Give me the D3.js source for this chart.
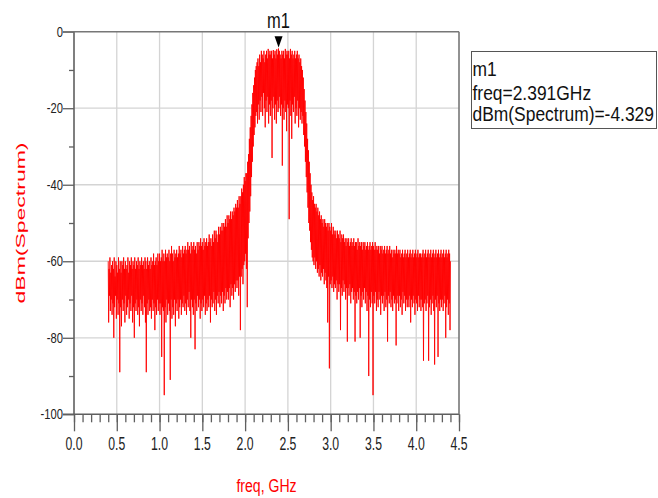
<!DOCTYPE html>
<html>
<head>
<meta charset="utf-8">
<script src="https://cdn.jsdelivr.net/npm/d3@7/dist/d3.min.js"></script>
<style>
  html, body { margin: 0; padding: 0; background: #fff; }
  svg { display: block; }
  text { font-family: "Liberation Sans", Arial, sans-serif; }
</style>
</head>
<body>
<svg id="chart" width="658" height="498"></svg>
<script>
// Spectrum trace sampled every 5 MHz from 0.400 GHz to 4.400 GHz (dBm),
// ten samples (50 MHz) per row
const freqStart = 0.40;
const freqStep = 0.005;
const spectrumDbm = [
  -60, -76, -62, -69, -59, -73, -63, -70, -61, -74,   // 0.40
  -60, -71, -62, -80, -59, -72, -64, -69, -60, -75,   // 0.45
  -61, -70, -63, -74, -59, -71, -62, -89, -60, -72,   // 0.50
  -63, -77, -60, -70, -61, -73, -59, -71, -62, -76,   // 0.55
  -60, -69, -62, -74, -61, -72, -59, -70, -63, -75,   // 0.60
  -60, -71, -61, -73, -59, -69, -62, -76, -60, -72,   // 0.65
  -61, -80, -59, -71, -62, -73, -60, -70, -61, -74,   // 0.70
  -59, -72, -62, -77, -60, -70, -61, -73, -59, -71,   // 0.75
  -61, -74, -60, -69, -62, -72, -59, -76, -60, -89,   // 0.80
  -62, -71, -59, -74, -61, -70, -60, -73, -62, -72,   // 0.85
  -59, -75, -61, -70, -60, -73, -58, -71, -61, -78,   // 0.90
  -60, -72, -59, -74, -61, -70, -58, -73, -60, -71,   // 0.95
  -58, -74, -60, -71, -59, -85, -57, -72, -60, -73,   // 1.00
  -58, -95, -60, -72, -57, -76, -59, -70, -58, -74,   // 1.05
  -59, -71, -57, -73, -60, -91, -58, -70, -56, -75,   // 1.10
  -58, -72, -60, -74, -57, -70, -59, -77, -58, -71,   // 1.15
  -57, -73, -59, -70, -58, -75, -56, -72, -58, -70,   // 1.20
  -57, -74, -59, -71, -56, -72, -58, -69, -57, -73,   // 1.25
  -56, -71, -58, -74, -57, -70, -55, -72, -57, -68,   // 1.30
  -56, -73, -58, -80, -55, -70, -57, -72, -56, -74,   // 1.35
  -55, -70, -57, -83, -56, -71, -58, -73, -55, -69,   // 1.40
  -57, -72, -55, -70, -56, -75, -54, -71, -56, -73,   // 1.45
  -55, -70, -57, -72, -54, -69, -56, -74, -55, -71,   // 1.50
  -54, -73, -56, -70, -55, -72, -53, -69, -55, -76,   // 1.55
  -54, -70, -56, -72, -53, -71, -55, -68, -52, -73,   // 1.60
  -54, -70, -52, -74, -53, -69, -55, -71, -51, -68,   // 1.65
  -53, -72, -51, -69, -52, -71, -50, -68, -52, -73,   // 1.70
  -50, -69, -51, -71, -49, -67, -51, -70, -48, -68,   // 1.75
  -50, -70, -48, -67, -49, -72, -47, -66, -49, -69,   // 1.80
  -47, -67, -48, -70, -46, -66, -47, -68, -45, -65,   // 1.85
  -46, -67, -44, -65, -46, -69, -43, -64, -45, -78,   // 1.90
  -43, -64, -41, -62, -42, -66, -40, -61, -38, -60,   // 1.95
  -39, -58, -37, -62, -37, -72, -34, -54, -32, -50,   // 2.00
  -28, -47, -25, -43, -22, -38, -19, -34, -16, -30,   // 2.05
  -14, -27, -12, -25, -10, -22, -9, -21, -8, -24,     // 2.10
  -7, -19, -9, -23, -6, -18, -8, -21, -5, -17,        // 2.15
  -6, -22, -7, -16, -5, -20, -8, -25, -6, -18,        // 2.20
  -5, -21, -7, -17, -4.5, -24, -6, -19, -5, -22,      // 2.25
  -6, -18, -5, -33, -7, -20, -4.8, -17, -6, -23,      // 2.30
  -5, -19, -7, -24, -4.6, -18, -6, -21, -4.4, -20,    // 2.35
  -5, -17, -6, -22, -7, -19, -5, -35, -6, -20,        // 2.40
  -5, -23, -7, -18, -4.5, -21, -6, -26, -5, -19,      // 2.45
  -6, -20, -5, -49, -7, -18, -4.5, -22, -6, -28,      // 2.50
  -5, -19, -7, -21, -6, -17, -5, -24, -7, -20,        // 2.55
  -6, -22, -5, -18, -7, -25, -6, -20, -8, -23,        // 2.60
  -7, -21, -9, -24, -10, -22, -12, -27, -15, -30,     // 2.65
  -18, -34, -21, -38, -24, -42, -28, -46, -31, -50,   // 2.70
  -34, -52, -37, -55, -40, -57, -42, -59, -44, -60,   // 2.75
  -43, -61, -45, -59, -46, -62, -45, -60, -47, -63,   // 2.80
  -46, -62, -48, -64, -47, -61, -49, -65, -48, -63,   // 2.85
  -50, -64, -49, -62, -51, -66, -49, -63, -50, -65,   // 2.90
  -51, -67, -50, -76, -52, -64, -50, -88, -51, -66,   // 2.95
  -52, -65, -50, -67, -53, -64, -51, -68, -52, -66,   // 3.00
  -53, -67, -52, -65, -54, -70, -52, -66, -53, -68,   // 3.05
  -54, -66, -52, -78, -55, -67, -53, -69, -54, -65,   // 3.10
  -53, -68, -55, -66, -54, -70, -56, -67, -54, -81,   // 3.15
  -55, -67, -54, -69, -56, -66, -55, -71, -54, -68,   // 3.20
  -56, -67, -55, -70, -54, -68, -56, -81, -55, -69,   // 3.25
  -55, -71, -57, -68, -54, -70, -56, -67, -55, -80,   // 3.30
  -56, -69, -55, -72, -57, -68, -55, -70, -56, -67,   // 3.35
  -55, -71, -57, -68, -56, -73, -55, -69, -57, -90,   // 3.40
  -56, -70, -55, -72, -57, -68, -56, -71, -55, -95,   // 3.45
  -56, -69, -57, -71, -55, -68, -57, -73, -56, -70,   // 3.50
  -57, -72, -56, -68, -58, -70, -56, -74, -57, -69,   // 3.55
  -56, -71, -58, -69, -57, -73, -56, -68, -58, -72,   // 3.60
  -57, -70, -56, -81, -58, -69, -57, -71, -56, -68,   // 3.65
  -58, -72, -57, -70, -59, -73, -57, -69, -58, -71,   // 3.70
  -57, -70, -58, -82, -56, -71, -58, -69, -57, -73,   // 3.75
  -58, -69, -57, -72, -59, -70, -58, -74, -57, -68,   // 3.80
  -59, -71, -58, -69, -57, -73, -59, -70, -58, -72,   // 3.85
  -57, -70, -59, -72, -58, -69, -57, -76, -59, -70,   // 3.90
  -58, -72, -57, -69, -59, -71, -58, -74, -57, -70,   // 3.95
  -59, -71, -58, -73, -57, -69, -59, -72, -58, -70,   // 4.00
  -58, -73, -59, -70, -58, -72, -57, -86, -59, -71,   // 4.05
  -58, -70, -57, -73, -59, -71, -58, -69, -57, -86,   // 4.10
  -59, -72, -58, -70, -57, -74, -59, -71, -58, -69,   // 4.15
  -57, -73, -59, -87, -58, -70, -57, -72, -59, -69,   // 4.20
  -58, -85, -57, -71, -59, -73, -58, -70, -57, -72,   // 4.25
  -59, -70, -58, -73, -57, -71, -59, -69, -58, -80,   // 4.30
  -57, -72, -59, -70, -58, -74, -57, -71, -58, -78,   // 4.35
  -60                                                 // 4.40
];

// Axis ticks
const xMajorTicks = [0.0, 0.5, 1.0, 1.5, 2.0, 2.5, 3.0, 3.5, 4.0, 4.5];
const xMinorTicks = d3.range(0, 46).map(i => i / 10);
const yMajorTicks = [0, -20, -40, -60, -80, -100];
const yMinorTicks = [-10, -30, -50, -70, -90];
const xTickLabels = ["0.0", "0.5", "1.0", "1.5", "2.0", "2.5", "3.0", "3.5", "4.0", "4.5"];
const yTickLabels = ["0", "-20", "-40", "-60", "-80", "-100"];

// Marker readout
const markerName = "m1";
const markerFreq = 2.391;
const markerDbm = -4.329;

const xTitle = "freq, GHz";
const yTitle = "dBm(Spectrum)";

const svg = d3.select("#chart");
const plotLeft = 74, plotRight = 459, plotTop = 31.7, plotBottom = 414.3;

const x = d3.scaleLinear().domain([0, 4.5]).range([plotLeft, plotRight]);
const y = d3.scaleLinear().domain([-100, 0]).range([plotBottom, plotTop]);

const axisColor = "#5f5f5f";
const gridColor = "#d4d4d4";

// horizontally condensed text helper
function label(g, px, py, str, size, sx, anchor, fill) {
  return g.append("text")
    .attr("transform", `translate(${px},${py}) scale(${sx},1)`)
    .attr("text-anchor", anchor)
    .attr("font-size", size)
    .attr("fill", fill || "#222")
    .text(str);
}

// grid
const grid = svg.append("g");
grid.selectAll("line.v").data(xMajorTicks.filter(d => d > 0 && d < 4.5)).join("line")
  .attr("x1", d => x(d)).attr("x2", d => x(d))
  .attr("y1", plotTop).attr("y2", plotBottom)
  .attr("stroke", gridColor).attr("stroke-width", 1.3);
grid.selectAll("line.h").data(yMajorTicks.filter(d => d < 0 && d > -100)).join("line")
  .attr("x1", plotLeft).attr("x2", plotRight)
  .attr("y1", d => y(d)).attr("y2", d => y(d))
  .attr("stroke", gridColor).attr("stroke-width", 1.3);

// spectrum trace
const trace = spectrumDbm.map((v, i) => [freqStart + i * freqStep, v]);
svg.append("path")
  .datum(trace)
  .attr("fill", "none")
  .attr("stroke", "#ff0000")
  .attr("stroke-width", 0.9)
  .attr("stroke-linejoin", "round")
  .attr("d", d3.line().x(d => x(d[0])).y(d => y(d[1])));

// axes (tick marks via d3 axes)
function styleAxis(g) {
  g.select(".domain").remove();
  g.selectAll("line").attr("stroke", axisColor).attr("stroke-width", 1.3);
  g.selectAll("text").remove();
}
svg.append("g").attr("transform", `translate(0,${plotBottom})`)
  .call(d3.axisBottom(x).tickValues(xMinorTicks).tickSize(8)).call(styleAxis);
svg.append("g").attr("transform", `translate(0,${plotBottom})`)
  .call(d3.axisBottom(x).tickValues(xMajorTicks).tickSize(17)).call(styleAxis);
svg.append("g").attr("transform", `translate(${plotLeft},0)`)
  .call(d3.axisLeft(y).tickValues(yMinorTicks).tickSize(5)).call(styleAxis);
svg.append("g").attr("transform", `translate(${plotLeft},0)`)
  .call(d3.axisLeft(y).tickValues(yMajorTicks).tickSize(11)).call(styleAxis);

// frame lines
const frame = svg.append("g").attr("stroke", axisColor).attr("stroke-width", 1.6);
frame.append("line").attr("x1", plotLeft).attr("x2", plotLeft).attr("y1", plotTop).attr("y2", plotBottom);
frame.append("line").attr("x1", plotLeft - 11).attr("x2", plotRight).attr("y1", plotBottom).attr("y2", plotBottom);
frame.append("line").attr("x1", plotLeft - 11).attr("x2", plotRight).attr("y1", plotTop).attr("y2", plotTop).attr("stroke", "#777");
frame.append("line").attr("x1", plotRight).attr("x2", plotRight).attr("y1", plotTop).attr("y2", plotBottom).attr("stroke", "#777");

// tick labels
const labels = svg.append("g");
yMajorTicks.forEach((t, i) => label(labels, 63, y(t) + 5, yTickLabels[i], 14, 0.8, "end"));
xMajorTicks.forEach((t, i) => label(labels, x(t), 450, xTickLabels[i], 18, 0.68, "middle"));

// axis titles
label(svg, (plotLeft + plotRight) / 2, 491.5, xTitle, 19, 0.74, "middle", "#ff0000");
svg.append("text")
  .attr("transform", `translate(24.6,${(plotTop + plotBottom) / 2}) scale(0.57,1) rotate(-90)`)
  .attr("text-anchor", "middle")
  .attr("font-size", 23)
  .attr("fill", "#ff0000")
  .text(yTitle);

// marker
const mx = x(markerFreq), my = y(markerDbm);
svg.append("path")
  .attr("d", `M${mx - 4},${my - 12}L${mx + 4},${my - 12}L${mx},${my - 0.8}Z`)
  .attr("fill", "#000");
label(svg, mx, 28, markerName, 22, 0.75, "middle", "#111");

// marker readout box
const box = svg.append("g");
box.append("rect")
  .attr("x", 471.5).attr("y", 51.5).attr("width", 185).attr("height", 77)
  .attr("fill", "#fff").attr("stroke", "#555").attr("stroke-width", 1);
label(box, 472.5, 76, markerName, 21, 0.83, "start", "#111");
label(box, 472.5, 99.5, `freq=${markerFreq}GHz`, 21, 0.83, "start", "#111");
label(box, 472.5, 120.5, `dBm(Spectrum)=${markerDbm}`, 21, 0.83, "start", "#111");
</script>
</body>
</html>
